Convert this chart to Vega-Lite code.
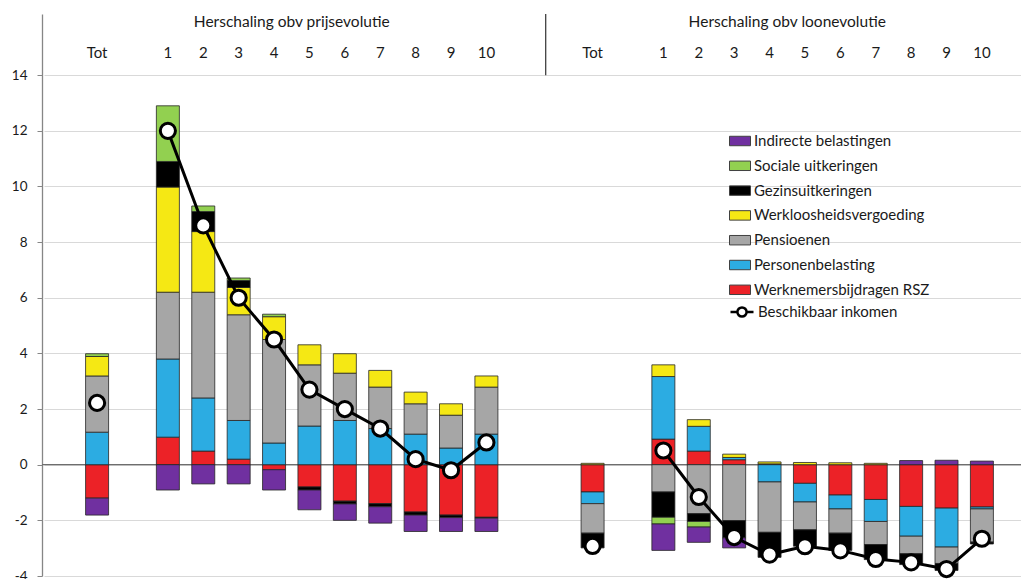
{
  "$schema": "https://vega.github.io/schema/vega-lite/v6.json",
  "width": 979,
  "height": 562,
  "autosize": {"type": "none"},
  "padding": {"left": 42, "top": 14, "right": 0, "bottom": 3},
  "config": {
    "view": {"stroke": null},
    "font": "Lato",
    "legend": {"labelFont": "Lato", "labelFontSize": 15, "labelColor": "#1a1a1a", "padding": 0, "labelOffset": 3, "labelLimit": 0}
  },
  "datasets": {
    "bars": [
      {"c": "P-Tot", "s": "Werknemersbijdragen RSZ", "v": -1.2, "k": 1},
      {"c": "P-Tot", "s": "Personenbelasting", "v": 1.17, "k": 2},
      {"c": "P-Tot", "s": "Pensioenen", "v": 2.02, "k": 3},
      {"c": "P-Tot", "s": "Werkloosheidsvergoeding", "v": 0.7, "k": 4},
      {"c": "P-Tot", "s": "Sociale uitkeringen", "v": 0.1, "k": 6},
      {"c": "P-Tot", "s": "Indirecte belastingen", "v": -0.61, "k": 7},
      {"c": "P-1", "s": "Werknemersbijdragen RSZ", "v": 0.99, "k": 1},
      {"c": "P-1", "s": "Personenbelasting", "v": 2.81, "k": 2},
      {"c": "P-1", "s": "Pensioenen", "v": 2.4, "k": 3},
      {"c": "P-1", "s": "Werkloosheidsvergoeding", "v": 3.78, "k": 4},
      {"c": "P-1", "s": "Gezinsuitkeringen", "v": 0.92, "k": 5},
      {"c": "P-1", "s": "Sociale uitkeringen", "v": 2.0, "k": 6},
      {"c": "P-1", "s": "Indirecte belastingen", "v": -0.91, "k": 7},
      {"c": "P-2", "s": "Werknemersbijdragen RSZ", "v": 0.49, "k": 1},
      {"c": "P-2", "s": "Personenbelasting", "v": 1.91, "k": 2},
      {"c": "P-2", "s": "Pensioenen", "v": 3.8, "k": 3},
      {"c": "P-2", "s": "Werkloosheidsvergoeding", "v": 2.18, "k": 4},
      {"c": "P-2", "s": "Gezinsuitkeringen", "v": 0.72, "k": 5},
      {"c": "P-2", "s": "Sociale uitkeringen", "v": 0.2, "k": 6},
      {"c": "P-2", "s": "Indirecte belastingen", "v": -0.69, "k": 7},
      {"c": "P-3", "s": "Werknemersbijdragen RSZ", "v": 0.2, "k": 1},
      {"c": "P-3", "s": "Personenbelasting", "v": 1.39, "k": 2},
      {"c": "P-3", "s": "Pensioenen", "v": 3.8, "k": 3},
      {"c": "P-3", "s": "Werkloosheidsvergoeding", "v": 0.98, "k": 4},
      {"c": "P-3", "s": "Gezinsuitkeringen", "v": 0.25, "k": 5},
      {"c": "P-3", "s": "Sociale uitkeringen", "v": 0.09, "k": 6},
      {"c": "P-3", "s": "Indirecte belastingen", "v": -0.69, "k": 7},
      {"c": "P-4", "s": "Werknemersbijdragen RSZ", "v": -0.18, "k": 1},
      {"c": "P-4", "s": "Personenbelasting", "v": 0.78, "k": 2},
      {"c": "P-4", "s": "Pensioenen", "v": 3.72, "k": 3},
      {"c": "P-4", "s": "Werkloosheidsvergoeding", "v": 0.82, "k": 4},
      {"c": "P-4", "s": "Sociale uitkeringen", "v": 0.09, "k": 6},
      {"c": "P-4", "s": "Indirecte belastingen", "v": -0.73, "k": 7},
      {"c": "P-5", "s": "Werknemersbijdragen RSZ", "v": -0.8, "k": 1},
      {"c": "P-5", "s": "Personenbelasting", "v": 1.39, "k": 2},
      {"c": "P-5", "s": "Pensioenen", "v": 2.2, "k": 3},
      {"c": "P-5", "s": "Werkloosheidsvergoeding", "v": 0.72, "k": 4},
      {"c": "P-5", "s": "Gezinsuitkeringen", "v": -0.11, "k": 5},
      {"c": "P-5", "s": "Indirecte belastingen", "v": -0.71, "k": 7},
      {"c": "P-6", "s": "Werknemersbijdragen RSZ", "v": -1.31, "k": 1},
      {"c": "P-6", "s": "Personenbelasting", "v": 1.59, "k": 2},
      {"c": "P-6", "s": "Pensioenen", "v": 1.7, "k": 3},
      {"c": "P-6", "s": "Werkloosheidsvergoeding", "v": 0.7, "k": 4},
      {"c": "P-6", "s": "Gezinsuitkeringen", "v": -0.1, "k": 5},
      {"c": "P-6", "s": "Indirecte belastingen", "v": -0.59, "k": 7},
      {"c": "P-7", "s": "Werknemersbijdragen RSZ", "v": -1.4, "k": 1},
      {"c": "P-7", "s": "Personenbelasting", "v": 1.3, "k": 2},
      {"c": "P-7", "s": "Pensioenen", "v": 1.49, "k": 3},
      {"c": "P-7", "s": "Werkloosheidsvergoeding", "v": 0.6, "k": 4},
      {"c": "P-7", "s": "Gezinsuitkeringen", "v": -0.11, "k": 5},
      {"c": "P-7", "s": "Indirecte belastingen", "v": -0.59, "k": 7},
      {"c": "P-8", "s": "Werknemersbijdragen RSZ", "v": -1.7, "k": 1},
      {"c": "P-8", "s": "Personenbelasting", "v": 1.1, "k": 2},
      {"c": "P-8", "s": "Pensioenen", "v": 1.09, "k": 3},
      {"c": "P-8", "s": "Werkloosheidsvergoeding", "v": 0.42, "k": 4},
      {"c": "P-8", "s": "Gezinsuitkeringen", "v": -0.11, "k": 5},
      {"c": "P-8", "s": "Indirecte belastingen", "v": -0.59, "k": 7},
      {"c": "P-9", "s": "Werknemersbijdragen RSZ", "v": -1.81, "k": 1},
      {"c": "P-9", "s": "Personenbelasting", "v": 0.6, "k": 2},
      {"c": "P-9", "s": "Pensioenen", "v": 1.18, "k": 3},
      {"c": "P-9", "s": "Werkloosheidsvergoeding", "v": 0.41, "k": 4},
      {"c": "P-9", "s": "Gezinsuitkeringen", "v": -0.09, "k": 5},
      {"c": "P-9", "s": "Indirecte belastingen", "v": -0.5, "k": 7},
      {"c": "P-10", "s": "Werknemersbijdragen RSZ", "v": -1.89, "k": 1},
      {"c": "P-10", "s": "Personenbelasting", "v": 1.1, "k": 2},
      {"c": "P-10", "s": "Pensioenen", "v": 1.69, "k": 3},
      {"c": "P-10", "s": "Werkloosheidsvergoeding", "v": 0.4, "k": 4},
      {"c": "P-10", "s": "Gezinsuitkeringen", "v": -0.03, "k": 5},
      {"c": "P-10", "s": "Indirecte belastingen", "v": -0.48, "k": 7},
      {"c": "L-Tot", "s": "Werknemersbijdragen RSZ", "v": -0.98, "k": 1},
      {"c": "L-Tot", "s": "Personenbelasting", "v": -0.42, "k": 2},
      {"c": "L-Tot", "s": "Pensioenen", "v": -1.06, "k": 3},
      {"c": "L-Tot", "s": "Werkloosheidsvergoeding", "v": 0.05, "k": 4},
      {"c": "L-Tot", "s": "Gezinsuitkeringen", "v": -0.53, "k": 5},
      {"c": "L-1", "s": "Werknemersbijdragen RSZ", "v": 0.92, "k": 1},
      {"c": "L-1", "s": "Personenbelasting", "v": 2.25, "k": 2},
      {"c": "L-1", "s": "Pensioenen", "v": -0.98, "k": 3},
      {"c": "L-1", "s": "Werkloosheidsvergoeding", "v": 0.42, "k": 4},
      {"c": "L-1", "s": "Gezinsuitkeringen", "v": -0.91, "k": 5},
      {"c": "L-1", "s": "Sociale uitkeringen", "v": -0.24, "k": 6},
      {"c": "L-1", "s": "Indirecte belastingen", "v": -0.95, "k": 7},
      {"c": "L-2", "s": "Werknemersbijdragen RSZ", "v": 0.49, "k": 1},
      {"c": "L-2", "s": "Personenbelasting", "v": 0.89, "k": 2},
      {"c": "L-2", "s": "Pensioenen", "v": -1.76, "k": 3},
      {"c": "L-2", "s": "Werkloosheidsvergoeding", "v": 0.24, "k": 4},
      {"c": "L-2", "s": "Gezinsuitkeringen", "v": -0.28, "k": 5},
      {"c": "L-2", "s": "Sociale uitkeringen", "v": -0.2, "k": 6},
      {"c": "L-2", "s": "Indirecte belastingen", "v": -0.55, "k": 7},
      {"c": "L-3", "s": "Werknemersbijdragen RSZ", "v": 0.18, "k": 1},
      {"c": "L-3", "s": "Personenbelasting", "v": 0.08, "k": 2},
      {"c": "L-3", "s": "Pensioenen", "v": -2.01, "k": 3},
      {"c": "L-3", "s": "Werkloosheidsvergoeding", "v": 0.12, "k": 4},
      {"c": "L-3", "s": "Gezinsuitkeringen", "v": -0.62, "k": 5},
      {"c": "L-3", "s": "Indirecte belastingen", "v": -0.36, "k": 7},
      {"c": "L-4", "s": "Werknemersbijdragen RSZ", "v": 0.03, "k": 1},
      {"c": "L-4", "s": "Personenbelasting", "v": -0.62, "k": 2},
      {"c": "L-4", "s": "Pensioenen", "v": -1.81, "k": 3},
      {"c": "L-4", "s": "Werkloosheidsvergoeding", "v": 0.07, "k": 4},
      {"c": "L-4", "s": "Gezinsuitkeringen", "v": -0.9, "k": 5},
      {"c": "L-5", "s": "Werknemersbijdragen RSZ", "v": -0.67, "k": 1},
      {"c": "L-5", "s": "Personenbelasting", "v": -0.67, "k": 2},
      {"c": "L-5", "s": "Pensioenen", "v": -1.0, "k": 3},
      {"c": "L-5", "s": "Werkloosheidsvergoeding", "v": 0.08, "k": 4},
      {"c": "L-5", "s": "Gezinsuitkeringen", "v": -0.59, "k": 5},
      {"c": "L-6", "s": "Werknemersbijdragen RSZ", "v": -1.09, "k": 1},
      {"c": "L-6", "s": "Personenbelasting", "v": -0.5, "k": 2},
      {"c": "L-6", "s": "Pensioenen", "v": -0.87, "k": 3},
      {"c": "L-6", "s": "Werkloosheidsvergoeding", "v": 0.07, "k": 4},
      {"c": "L-6", "s": "Gezinsuitkeringen", "v": -0.62, "k": 5},
      {"c": "L-7", "s": "Werknemersbijdragen RSZ", "v": -1.25, "k": 1},
      {"c": "L-7", "s": "Personenbelasting", "v": -0.79, "k": 2},
      {"c": "L-7", "s": "Pensioenen", "v": -0.83, "k": 3},
      {"c": "L-7", "s": "Werkloosheidsvergoeding", "v": 0.05, "k": 4},
      {"c": "L-7", "s": "Gezinsuitkeringen", "v": -0.54, "k": 5},
      {"c": "L-8", "s": "Werknemersbijdragen RSZ", "v": -1.5, "k": 1},
      {"c": "L-8", "s": "Personenbelasting", "v": -1.07, "k": 2},
      {"c": "L-8", "s": "Pensioenen", "v": -0.63, "k": 3},
      {"c": "L-8", "s": "Gezinsuitkeringen", "v": -0.39, "k": 5},
      {"c": "L-8", "s": "Indirecte belastingen", "v": 0.15, "k": 7},
      {"c": "L-9", "s": "Werknemersbijdragen RSZ", "v": -1.56, "k": 1},
      {"c": "L-9", "s": "Personenbelasting", "v": -1.4, "k": 2},
      {"c": "L-9", "s": "Pensioenen", "v": -0.59, "k": 3},
      {"c": "L-9", "s": "Gezinsuitkeringen", "v": -0.25, "k": 5},
      {"c": "L-9", "s": "Indirecte belastingen", "v": 0.16, "k": 7},
      {"c": "L-10", "s": "Werknemersbijdragen RSZ", "v": -1.52, "k": 1},
      {"c": "L-10", "s": "Personenbelasting", "v": -0.07, "k": 2},
      {"c": "L-10", "s": "Pensioenen", "v": -1.19, "k": 3},
      {"c": "L-10", "s": "Gezinsuitkeringen", "v": -0.07, "k": 5},
      {"c": "L-10", "s": "Indirecte belastingen", "v": 0.13, "k": 7}
    ],
    "inkomen": [
      {"c": "P-Tot", "g": "PT", "v": 2.22},
      {"c": "P-1", "g": "P", "v": 12.0},
      {"c": "P-2", "g": "P", "v": 8.6},
      {"c": "P-3", "g": "P", "v": 6.0},
      {"c": "P-4", "g": "P", "v": 4.5},
      {"c": "P-5", "g": "P", "v": 2.7},
      {"c": "P-6", "g": "P", "v": 2.0},
      {"c": "P-7", "g": "P", "v": 1.3},
      {"c": "P-8", "g": "P", "v": 0.2},
      {"c": "P-9", "g": "P", "v": -0.2},
      {"c": "P-10", "g": "P", "v": 0.8},
      {"c": "L-Tot", "g": "LT", "v": -2.92},
      {"c": "L-1", "g": "L", "v": 0.51},
      {"c": "L-2", "g": "L", "v": -1.16},
      {"c": "L-3", "g": "L", "v": -2.6},
      {"c": "L-4", "g": "L", "v": -3.23},
      {"c": "L-5", "g": "L", "v": -2.93},
      {"c": "L-6", "g": "L", "v": -3.08},
      {"c": "L-7", "g": "L", "v": -3.39},
      {"c": "L-8", "g": "L", "v": -3.51},
      {"c": "L-9", "g": "L", "v": -3.75},
      {"c": "L-10", "g": "L", "v": -2.66}
    ],
    "labels": [
      {"c": "P-Tot", "t": "Tot"}, {"c": "P-1", "t": "1"}, {"c": "P-2", "t": "2"}, {"c": "P-3", "t": "3"},
      {"c": "P-4", "t": "4"}, {"c": "P-5", "t": "5"}, {"c": "P-6", "t": "6"}, {"c": "P-7", "t": "7"},
      {"c": "P-8", "t": "8"}, {"c": "P-9", "t": "9"}, {"c": "P-10", "t": "10"},
      {"c": "L-Tot", "t": "Tot"}, {"c": "L-1", "t": "1"}, {"c": "L-2", "t": "2"}, {"c": "L-3", "t": "3"},
      {"c": "L-4", "t": "4"}, {"c": "L-5", "t": "5"}, {"c": "L-6", "t": "6"}, {"c": "L-7", "t": "7"},
      {"c": "L-8", "t": "8"}, {"c": "L-9", "t": "9"}, {"c": "L-10", "t": "10"}
    ],
    "headers": [
      {"c": "P-4", "t": "Herschaling obv prijsevolutie"},
      {"c": "L-4", "t": "Herschaling obv loonevolutie"}
    ]
  },
  "encoding": {
    "x": {
      "field": "c",
      "type": "nominal",
      "axis": null,
      "scale": {
        "domain": ["s0", "P-Tot", "s2", "P-1", "P-2", "P-3", "P-4", "P-5", "P-6", "P-7", "P-8", "P-9", "P-10", "s13", "s14",
                   "L-Tot", "s16", "L-1", "L-2", "L-3", "L-4", "L-5", "L-6", "L-7", "L-8", "L-9", "L-10", "s27"],
        "range": [2, 993],
        "paddingInner": 0.35,
        "paddingOuter": 0.175
      }
    }
  },
  "layer": [
    {
      "data": {"values": [{}]},
      "mark": {"type": "rule", "color": "#6e6e6e", "strokeWidth": 1.2},
      "encoding": {
        "x": {"value": 0},
        "x2": {"value": "width"},
        "y": {"datum": 0, "axis": {"title": null}}
      }
    },
    {
      "data": {"name": "bars"},
      "mark": {"type": "bar", "stroke": "#262626", "strokeWidth": 0.8},
      "encoding": {
        "y": {
          "field": "v",
          "type": "quantitative",
          "stack": "zero",
          "scale": {"domain": [-4, 16.2], "nice": false, "zero": false},
          "axis": {
            "title": null,
            "values": [-4, -2, 0, 2, 4, 6, 8, 10, 12, 14],
            "labelExpr": "'' + datum.value",
            "grid": true,
            "gridColor": "#d9d9d9",
            "gridWidth": 1,
            "domainColor": "#868686",
            "domainWidth": 1.3,
            "tickColor": "#868686",
            "tickSize": 5,
            "labelPadding": 10,
            "labelFontSize": 13.5,
            "labelColor": "#1a1a1a",
            "labelFont": "Lato"
          }
        },
        "color": {
          "field": "s",
          "type": "nominal",
          "scale": {
            "domain": ["Indirecte belastingen", "Sociale uitkeringen", "Gezinsuitkeringen", "Werkloosheidsvergoeding",
                       "Pensioenen", "Personenbelasting", "Werknemersbijdragen RSZ"],
            "range": ["#7030a0", "#92d050", "#000000", "#f5e814", "#a6a6a6", "#2cace2", "#ec2227"]
          },
          "legend": {
            "title": null,
            "orient": "none",
            "legendX": 687,
            "legendY": 116,
            "symbolType": "M-1,-0.45H1V0.45H-1Z",
            "symbolSize": 441,
            "symbolStrokeColor": "#404040",
            "symbolStrokeWidth": 1,
            "rowPadding": 5.8
          }
        },
        "order": {"field": "k", "type": "quantitative"}
      }
    },
    {
      "data": {"name": "inkomen"},
      "mark": {"type": "line", "color": "#000000", "strokeWidth": 3},
      "encoding": {
        "y": {"field": "v", "type": "quantitative", "axis": {"title": null}},
        "detail": {"field": "g"},
        "stroke": {
          "datum": "Beschikbaar inkomen",
          "scale": {"range": ["#000000"]},
          "legend": {
            "title": null,
            "orient": "none",
            "legendX": 687,
            "legendY": 285,
            "symbolType": "M-1,0H-0.4M0.4,0H1M-0.4,0A0.4,0.4,0,1,1,0.4,0A0.4,0.4,0,1,1,-0.4,0",
            "symbolSize": 529,
            "symbolFillColor": "#ffffff",
            "symbolStrokeWidth": 2.5
          }
        }
      }
    },
    {
      "data": {"name": "inkomen"},
      "mark": {"type": "point", "filled": false, "fill": "#ffffff", "stroke": "#000000", "strokeWidth": 3, "size": 230, "opacity": 1},
      "encoding": {
        "y": {"field": "v", "type": "quantitative", "axis": {"title": null}}
      }
    },
    {
      "data": {"name": "labels"},
      "mark": {"type": "text", "fontSize": 15, "color": "#1a1a1a", "font": "Lato"},
      "encoding": {
        "y": {"datum": 14.8, "axis": {"title": null}},
        "text": {"field": "t"}
      }
    },
    {
      "data": {"name": "headers"},
      "mark": {"type": "text", "fontSize": 15.5, "color": "#1a1a1a", "font": "Lato", "dx": 17.7},
      "encoding": {
        "y": {"datum": 15.92, "axis": {"title": null}},
        "text": {"field": "t"}
      }
    },
    {
      "data": {"values": [{"c": "s14"}]},
      "mark": {"type": "rule", "color": "#404040", "strokeWidth": 1.3},
      "encoding": {
        "x": {"field": "c", "type": "nominal", "bandPosition": 0},
        "y": {"datum": 14, "axis": {"title": null}},
        "y2": {"datum": 16.2}
      }
    }
  ]
}
